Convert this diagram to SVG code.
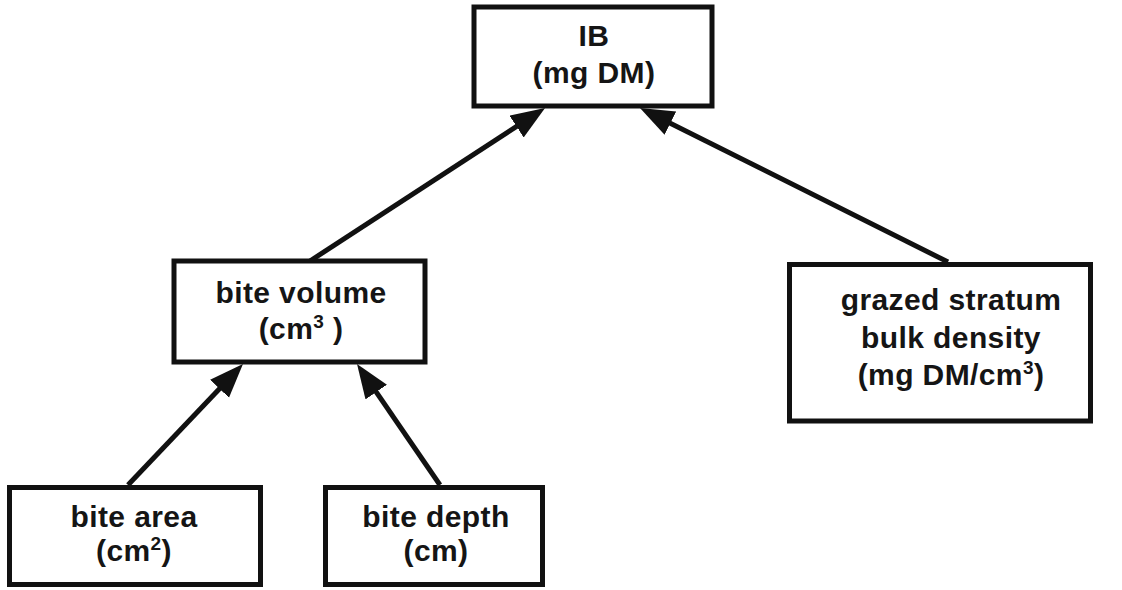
<svg xmlns="http://www.w3.org/2000/svg" width="1122" height="590" viewBox="0 0 1122 590">
  <style>
    .box { fill: #ffffff; stroke: #111111; stroke-width: 5; }
    .lbl { font-family: "Liberation Sans", Arial, sans-serif; font-weight: bold; font-size: 30px; letter-spacing: 0.4px; fill: #151515; text-anchor: middle; }
    .sup { font-size: 19px; }
    .link { fill: none; stroke: #111111; stroke-width: 5; marker-end: url(#head); }
  </style>
  <defs>
    <!-- solid arrowhead; the tip sits 12px past the end of the line -->
    <marker id="head" markerUnits="userSpaceOnUse" markerWidth="36" markerHeight="28" refX="22" refY="13" orient="auto">
      <path d="M0,0 L34,13 L0,26 Z" fill="#111111"/>
    </marker>
  </defs>
  <rect width="1122" height="590" fill="#ffffff"/>

  <!-- connectors -->
  <g id="connectors">
    <line class="link" x1="310" y1="261" x2="535" y2="114.5"/>
    <line class="link" x1="948" y1="262" x2="650.7" y2="113.4"/>
    <line class="link" x1="128" y1="485" x2="234.7" y2="372.8"/>
    <line class="link" x1="440" y1="485" x2="363.8" y2="373.9"/>
  </g>

  <!-- nodes -->
  <g id="ib">
    <rect class="box" x="474" y="7" width="238" height="99"/>
    <text class="lbl" x="594" y="46">IB</text>
    <text class="lbl" x="594" y="83">(mg DM)</text>
  </g>

  <g id="bite-volume">
    <rect class="box" x="174" y="261" width="251" height="101"/>
    <text class="lbl" x="301" y="303">bite volume</text>
    <text class="lbl" x="301" y="339">(cm<tspan class="sup" dy="-11">3</tspan><tspan dy="11"> )</tspan></text>
  </g>

  <g id="grazed-stratum">
    <rect class="box" x="789.5" y="264.5" width="301" height="156.5"/>
    <text class="lbl" x="951" y="310">grazed stratum</text>
    <text class="lbl" x="951" y="348">bulk density</text>
    <text class="lbl" x="951" y="385">(mg DM/cm<tspan class="sup" dy="-11">3</tspan><tspan dy="11">)</tspan></text>
  </g>

  <g id="bite-area">
    <rect class="box" x="9.5" y="487.5" width="251" height="97"/>
    <text class="lbl" x="134" y="527">bite area</text>
    <text class="lbl" x="134" y="561">(cm<tspan class="sup" dy="-11">2</tspan><tspan dy="11">)</tspan></text>
  </g>

  <g id="bite-depth">
    <rect class="box" x="325.5" y="487.5" width="217" height="97"/>
    <text class="lbl" x="436" y="527">bite depth</text>
    <text class="lbl" x="436" y="561">(cm)</text>
  </g>
</svg>
